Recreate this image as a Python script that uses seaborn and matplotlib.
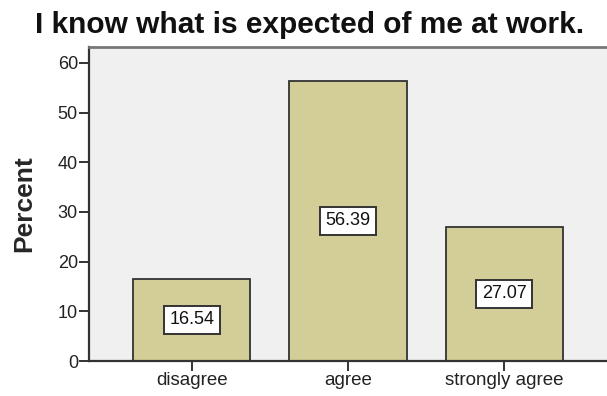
import matplotlib
matplotlib.use("Agg")
import matplotlib.pyplot as plt
import seaborn as sns
import pandas as pd

# Survey response shares
categories = ["disagree", "agree", "strongly agree"]
percents = [16.54, 56.39, 27.07]
y_ticks = [0, 10, 20, 30, 40, 50, 60]

sns.set_style("white")
plt.rcParams["font.family"] = ["Liberation Sans", "DejaVu Sans"]

df = pd.DataFrame({"response": categories, "percent": percents})

fig = plt.figure(figsize=(6.07, 3.96), dpi=100)
ax = fig.add_axes([89 / 607, 35 / 396, 1 - 89 / 607, (361 - 47) / 396])
ax.set_facecolor("#f0f0f0")

sns.barplot(data=df, x="response", y="percent", order=categories,
            color="#d3ce98", saturation=1, width=0.75,
            edgecolor="#333333", linewidth=1.3, ax=ax)

for i, v in enumerate(percents):
    ax.text(i, v / 2, f"{v:.2f}", ha="center", va="center", fontsize=13,
            color="#111111",
            bbox=dict(boxstyle="square,pad=0.3", facecolor="white",
                      edgecolor="#333333", linewidth=1.4))

ax.set_xlim(-0.66, 2.66)
ax.set_ylim(0, 63.2)
ax.set_yticks(y_ticks)
ax.set_yticklabels([str(t) for t in y_ticks], fontsize=13, color="#222222")
ax.set_xticks(range(len(categories)))
ax.set_xticklabels(categories, fontsize=13.5, color="#222222")
ax.tick_params(axis="both", direction="out", length=7, width=1.4,
               color="#333333", left=True, bottom=True, pad=1)

ax.set_xlabel("")
ax.set_ylabel("Percent", fontsize=19, fontweight="bold")
ax.yaxis.set_label_coords(-(89 - 36) / (607 - 89), 0.5)

for side in ["left", "bottom"]:
    ax.spines[side].set_color("#333333")
    ax.spines[side].set_linewidth(1.6)
ax.spines["top"].set_color("#777777")
ax.spines["top"].set_linewidth(2)
ax.spines["right"].set_visible(False)

fig.text(310 / 607, 1 - 25 / 396, "I know what is expected of me at work.",
         ha="center", va="center", fontsize=21.5, fontweight="bold",
         color="#111111")

fig.savefig("out.png", dpi=100)
